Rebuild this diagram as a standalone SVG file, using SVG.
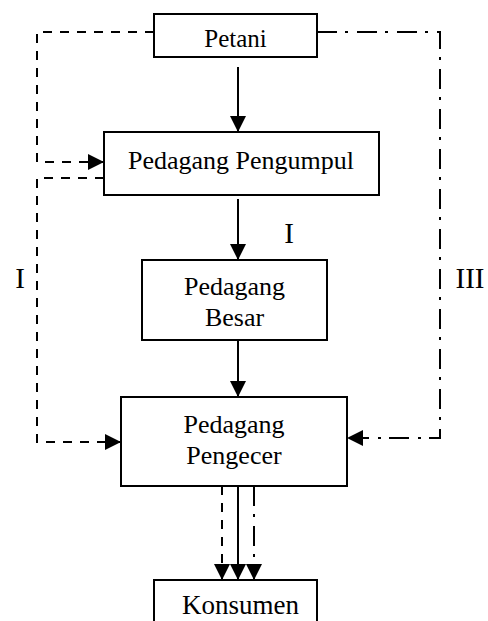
<svg xmlns="http://www.w3.org/2000/svg" width="488" height="621" viewBox="0 0 488 621">
<style>
.box{fill:#fff;stroke:#000;stroke-width:2}
.t{font-family:"Liberation Serif","Times New Roman",serif;fill:#000;text-anchor:middle}
.ln{fill:none;stroke:#000;stroke-width:2}
.dash{stroke-dasharray:9 8}
.dd{stroke-dasharray:20 8 3 9}
</style>
<defs>
<marker id="ah" markerUnits="userSpaceOnUse" markerWidth="16" markerHeight="16" refX="16" refY="8" orient="auto">
<path d="M0,0 L16,8 L0,16 z" fill="#000"/>
</marker>
</defs>
<rect width="488" height="621" fill="#fff"/>
<g id="connectors">
<path class="ln" d="M238,67 V132" marker-end="url(#ah)"/>
<path class="ln" d="M238,199 V260" marker-end="url(#ah)"/>
<path class="ln" d="M238,340 V397" marker-end="url(#ah)"/>
<path class="ln dash" d="M154,32 H37 V162 H104" marker-end="url(#ah)"/>
<path class="ln dash" d="M104,178 H37 V442 H121" marker-end="url(#ah)"/>
<path class="ln dd" d="M317,32 H440 V438 H347" marker-end="url(#ah)"/>
<path class="ln dash" d="M222,486 V580" marker-end="url(#ah)"/>
<path class="ln" d="M238,486 V580" marker-end="url(#ah)"/>
<path class="ln dd" d="M254,486 V580" marker-end="url(#ah)"/>
</g>
<g id="petani">
<rect class="box" x="154" y="14" width="163" height="43"/>
<text class="t" x="235.5" y="47" font-size="25">Petani</text>
</g>
<g id="pengumpul">
<rect class="box" x="104" y="132" width="275" height="63"/>
<text class="t" x="241" y="169" font-size="26">Pedagang Pengumpul</text>
</g>
<g id="besar">
<rect class="box" x="142" y="260" width="185" height="80"/>
<text class="t" x="234.5" y="295" font-size="26">Pedagang</text>
<text class="t" x="234.5" y="326" font-size="26">Besar</text>
</g>
<g id="pengecer">
<rect class="box" x="121" y="397" width="226" height="89"/>
<text class="t" x="234" y="433" font-size="26">Pedagang</text>
<text class="t" x="234" y="464" font-size="26">Pengecer</text>
</g>
<g id="konsumen">
<rect class="box" x="154" y="580" width="163" height="50"/>
<text class="t" x="240.5" y="614" font-size="27">Konsumen</text>
</g>
<g id="labels">
<text class="t" x="289" y="243" font-size="29">I</text>
<text class="t" x="20" y="288" font-size="29">I</text>
<text class="t" x="470" y="288" font-size="29">III</text>
</g>
</svg>
